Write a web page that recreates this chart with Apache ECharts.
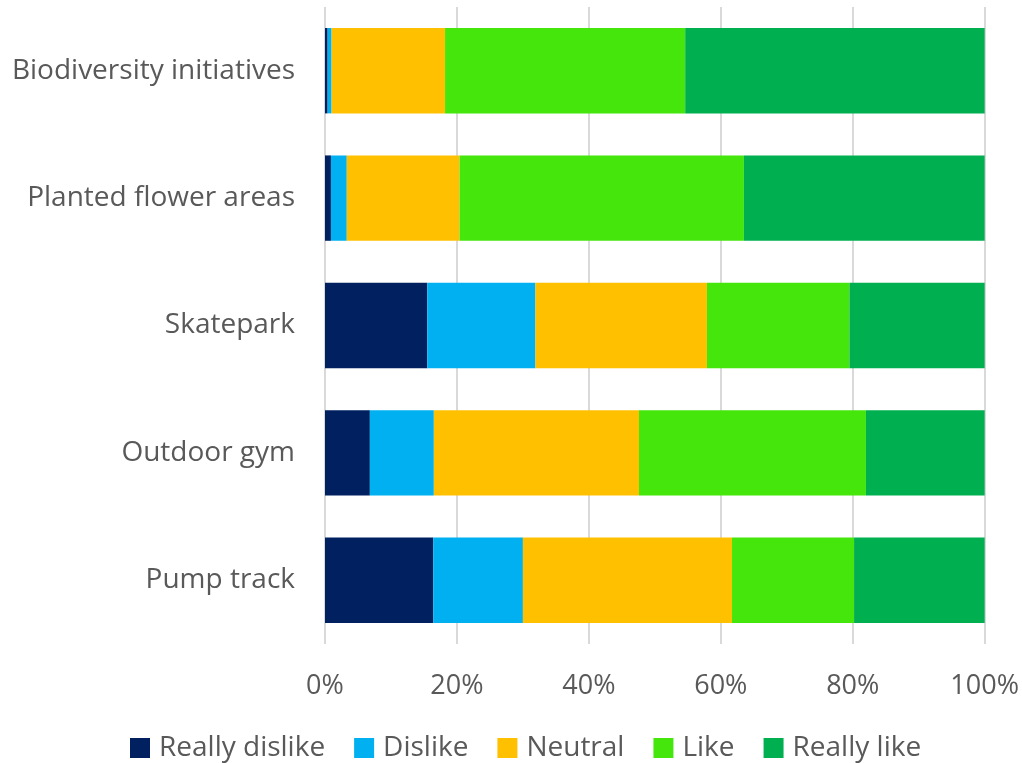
<!DOCTYPE html>
<html>
<head>
<meta charset="utf-8">
<script src="https://cdn.jsdelivr.net/npm/echarts@6/dist/echarts.min.js"></script>
<style>html,body{margin:0;padding:0;background:#fff;}#c{width:1022px;height:763px;}</style>
</head>
<body>
<div id="c"></div>
<script>
const categories = ['Biodiversity initiatives', 'Planted flower areas', 'Skatepark', 'Outdoor gym', 'Pump track'];
const seriesNames = ['Really dislike', 'Dislike', 'Neutral', 'Like', 'Really like'];
const reallyDislike = [0.4, 0.9, 15.5, 6.8, 16.4];
const dislike = [0.6, 2.4, 16.4, 9.7, 13.6];
const neutral = [17.2, 17.1, 26.0, 31.1, 31.7];
const like = [36.4, 43.1, 21.6, 34.4, 18.5];
const reallyLike = [45.4, 36.5, 20.5, 18.0, 19.8];
const xTicks = [0, 20, 40, 60, 80, 100];
const colors = ['#002060', '#00B0F0', '#FFC000', '#44E60C', '#00B050'];

const values = [reallyDislike, dislike, neutral, like, reallyLike];
const font = 'Open Sans';
const chart = echarts.init(document.getElementById('c'), null, {renderer: 'canvas'});
chart.setOption({
  animation: false,
  color: colors,
  grid: {left: 325, right: 35, top: 7, bottom: 119, containLabel: false},
  legend: {
    top: 729,
    left: 125,
    itemWidth: 20,
    itemHeight: 20,
    itemGap: 29,
    icon: 'rect',
    textStyle: {color: '#595959', fontSize: 28, fontFamily: font, padding: [0, 0, 0, 4]},
    data: seriesNames
  },
  xAxis: {
    type: 'value',
    min: xTicks[0],
    max: xTicks[xTicks.length - 1],
    interval: 20,
    axisLine: {show: false},
    axisTick: {show: false},
    splitLine: {show: true, lineStyle: {color: '#d9d9d9', width: 2}},
    axisLabel: {color: '#595959', fontSize: 27, fontFamily: font, margin: 29, formatter: v => v + '%'}
  },
  yAxis: {
    type: 'category',
    inverse: true,
    data: categories,
    axisLine: {show: false},
    axisTick: {show: false},
    axisLabel: {color: '#595959', fontSize: 28, fontFamily: font, margin: 30}
  },
  series: seriesNames.map((name, i) => ({
    name: name,
    type: 'bar',
    stack: 'total',
    barCategoryGap: '33%',
    data: values[i],
    itemStyle: {color: colors[i]}
  }))
});
</script>
</body>
</html>
